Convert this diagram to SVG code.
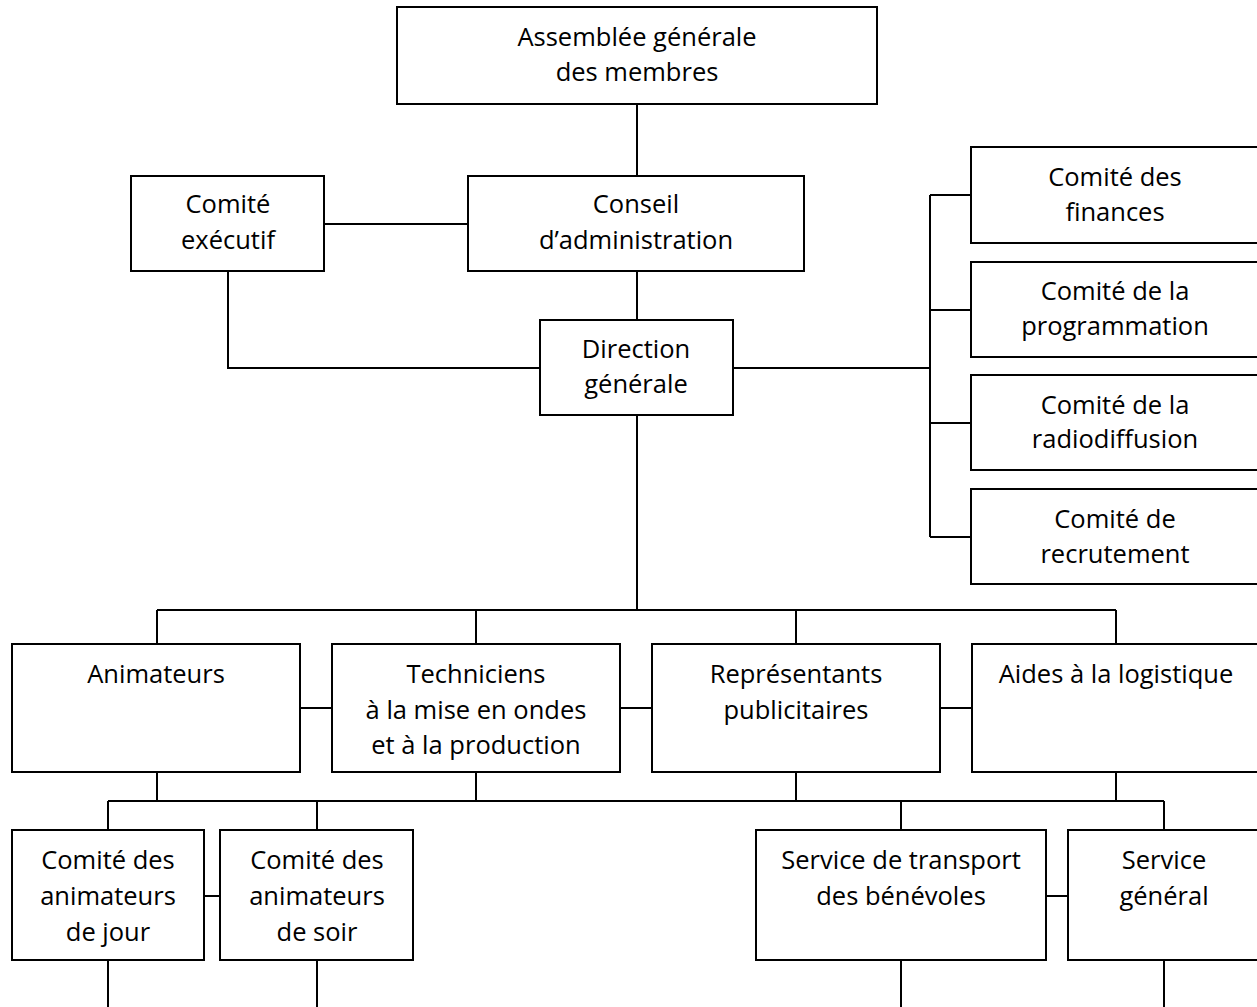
<svg xmlns="http://www.w3.org/2000/svg" width="1257" height="1007" viewBox="0 0 1257 1007">
<style>
.b{fill:#fff;stroke:#000;stroke-width:2}
.c{fill:none;stroke:#000;stroke-width:2}
text{font-family:"Open Sans","Noto Sans",sans-serif;font-size:25.5px;fill:#000;text-anchor:middle}
</style>
<rect width="1257" height="1007" fill="#fff"/>
<g id="connectors">
<path class="c" d="M637 104V176M324 224H468M637 271V320M228 271V368H540M733 368H930M930 195V537M930 195H971M930 310H971M930 423H971M930 537H971"/>
<path class="c" d="M637 415V610M157 610H1116M157 610V644M476 610V644M796 610V644M1116 610V644M300 708H332M620 708H652M940 708H972"/>
<path class="c" d="M157 772V801M476 772V801M796 772V801M1116 772V801M108 801H1164M108 801V830M317 801V830M901 801V830M1164 801V830M204 896H220M1046 896H1068"/>
<path class="c" d="M108 960V1007M317 960V1007M901 960V1007M1164 960V1007"/>
</g>
<g id="assemblee"><rect class="b" x="397" y="7" width="480" height="97"/><text x="637" y="46">Assemblée générale</text><text x="637" y="81">des membres</text></g>
<g id="executif"><rect class="b" x="131" y="176" width="193" height="95"/><text x="228" y="213">Comité</text><text x="228" y="249">exécutif</text></g>
<g id="conseil"><rect class="b" x="468" y="176" width="336" height="95"/><text x="636" y="213">Conseil</text><text x="636" y="249">d’administration</text></g>
<g id="direction"><rect class="b" x="540" y="320" width="193" height="95"/><text x="636" y="358">Direction</text><text x="636" y="393">générale</text></g>
<g id="finances"><rect class="b" x="971" y="147" width="290" height="96"/><text x="1115" y="186">Comité des</text><text x="1115" y="221">finances</text></g>
<g id="programmation"><rect class="b" x="971" y="262" width="290" height="95"/><text x="1115" y="300">Comité de la</text><text x="1115" y="335">programmation</text></g>
<g id="radiodiffusion"><rect class="b" x="971" y="375" width="290" height="95"/><text x="1115" y="414">Comité de la</text><text x="1115" y="448">radiodiffusion</text></g>
<g id="recrutement"><rect class="b" x="971" y="489" width="290" height="95"/><text x="1115" y="528">Comité de</text><text x="1115" y="563">recrutement</text></g>
<g id="animateurs"><rect class="b" x="12" y="644" width="288" height="128"/><text x="156" y="683">Animateurs</text></g>
<g id="techniciens"><rect class="b" x="332" y="644" width="288" height="128"/><text x="476" y="683">Techniciens</text><text x="476" y="719">à la mise en ondes</text><text x="476" y="754">et à la production</text></g>
<g id="representants"><rect class="b" x="652" y="644" width="288" height="128"/><text x="796" y="683">Représentants</text><text x="796" y="719">publicitaires</text></g>
<g id="aides"><rect class="b" x="972" y="644" width="290" height="128"/><text x="1116" y="683">Aides à la logistique</text></g>
<g id="jour"><rect class="b" x="12" y="830" width="192" height="130"/><text x="108" y="869">Comité des</text><text x="108" y="905">animateurs</text><text x="108" y="941">de jour</text></g>
<g id="soir"><rect class="b" x="220" y="830" width="193" height="130"/><text x="317" y="869">Comité des</text><text x="317" y="905">animateurs</text><text x="317" y="941">de soir</text></g>
<g id="transport"><rect class="b" x="756" y="830" width="290" height="130"/><text x="901" y="869">Service de transport</text><text x="901" y="905">des bénévoles</text></g>
<g id="general"><rect class="b" x="1068" y="830" width="192" height="130"/><text x="1164" y="869">Service</text><text x="1164" y="905">général</text></g>
</svg>
